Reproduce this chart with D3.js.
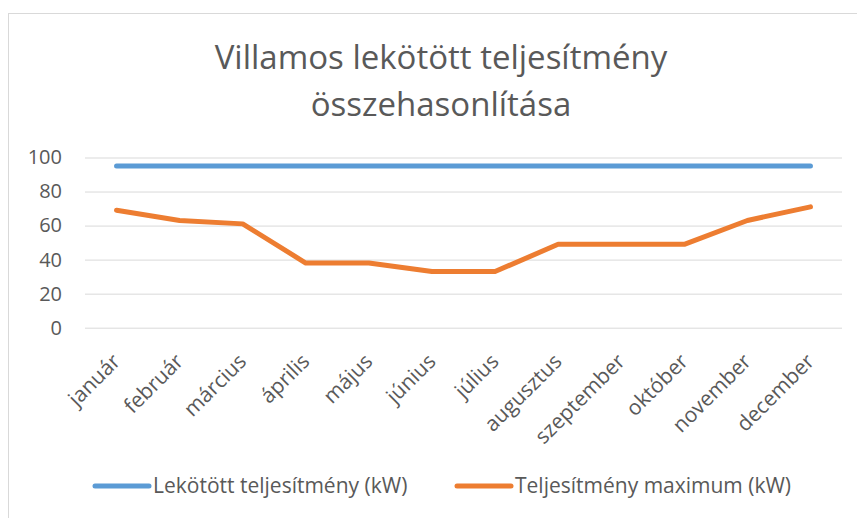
<!DOCTYPE html>
<html>
<head>
<meta charset="utf-8">
<script src="https://cdn.jsdelivr.net/npm/d3@7"></script>
<style>
  html, body { margin: 0; padding: 0; background: #fff; }
  svg { display: block; font-family: 'Open Sans', sans-serif; }
</style>
</head>
<body>
<div id="chart"></div>
<script>
const months = ['január', 'február', 'március', 'április', 'május', 'június',
  'július', 'augusztus', 'szeptember', 'október', 'november', 'december'];
const lekotott = [95, 95, 95, 95, 95, 95, 95, 95, 95, 95, 95, 95];
const maximum = [69, 63, 61, 38, 38, 33, 33, 49, 49, 49, 63, 71];
const yTicks = [0, 20, 40, 60, 80, 100];
const seriesNames = ['Lekötött teljesítmény (kW)', 'Teljesítmény maximum (kW)'];
const titleLines = ['Villamos lekötött teljesítmény', 'összehasonlítása'];

const width = 857;
const height = 518;
const plot = { left: 85, right: 842, top: 157.5, bottom: 327.7 };
const colors = ['#5b9bd5', '#ed7d31'];
const textColor = '#595959';

const svg = d3.select('#chart')
  .append('svg')
  .attr('width', width)
  .attr('height', height);

// chart area border
svg.append('rect')
  .attr('x', 8.5)
  .attr('y', 13.5)
  .attr('width', 880)
  .attr('height', 520)
  .attr('fill', 'none')
  .attr('stroke', '#d9d9d9');

// title
svg.append('g')
  .selectAll('text')
  .data(titleLines)
  .enter()
  .append('text')
  .attr('x', 441)
  .attr('y', (d, i) => 69 + i * 47)
  .attr('text-anchor', 'middle')
  .attr('fill', textColor)
  .style('font-size', '33px')
  .text(d => d);

const x = d3.scaleBand()
  .domain(months)
  .range([plot.left, plot.right]);

const y = d3.scaleLinear()
  .domain([0, 100])
  .range([plot.bottom, plot.top]);

// gridlines
const yAxis = svg.append('g')
  .attr('class', 'yAxis')
  .attr('transform', `translate(${plot.left},0)`)
  .call(d3.axisLeft(y).tickValues(yTicks).tickSize(-(plot.right - plot.left)).tickPadding(23));

yAxis.select('.domain').remove();
yAxis.selectAll('line').attr('stroke', '#d9d9d9').attr('stroke-width', 1);
yAxis.selectAll('text')
  .attr('fill', textColor)
  .style('font-size', '20px')
  .style('font-family', "'Open Sans', sans-serif");

// x axis labels
const xAxis = svg.append('g')
  .attr('class', 'xAxis')
  .attr('transform', `translate(0,${plot.bottom})`)
  .call(d3.axisBottom(x).tickSize(0).tickPadding(0));

xAxis.select('.domain').remove();
xAxis.selectAll('text')
  .attr('fill', textColor)
  .style('font-size', '21px')
  .style('font-family', "'Open Sans', sans-serif")
  .attr('text-anchor', 'end')
  .attr('dy', null)
  .attr('transform', 'translate(5,35) rotate(-45)');

// lines
const line = d3.line()
  .x((d, i) => x(months[i]) + x.bandwidth() / 2)
  .y(d => y(d));

svg.append('g')
  .selectAll('path')
  .data([lekotott, maximum])
  .enter()
  .append('path')
  .attr('d', line)
  .attr('fill', 'none')
  .attr('stroke', (d, i) => colors[i])
  .attr('stroke-width', 5)
  .attr('stroke-linecap', 'round')
  .attr('stroke-linejoin', 'round');

// legend
const legendX = [95, 457];
const legend = svg.append('g')
  .attr('class', 'legend')
  .selectAll('g')
  .data(seriesNames)
  .enter()
  .append('g')
  .attr('transform', (d, i) => `translate(${legendX[i]},486)`);

legend.append('line')
  .attr('x1', 0)
  .attr('x2', 54)
  .attr('stroke', (d, i) => colors[i])
  .attr('stroke-width', 5)
  .attr('stroke-linecap', 'round');

legend.append('text')
  .attr('x', 58)
  .attr('dy', '0.35em')
  .attr('fill', textColor)
  .style('font-size', '21px')
  .text(d => d);
</script>
</body>
</html>
